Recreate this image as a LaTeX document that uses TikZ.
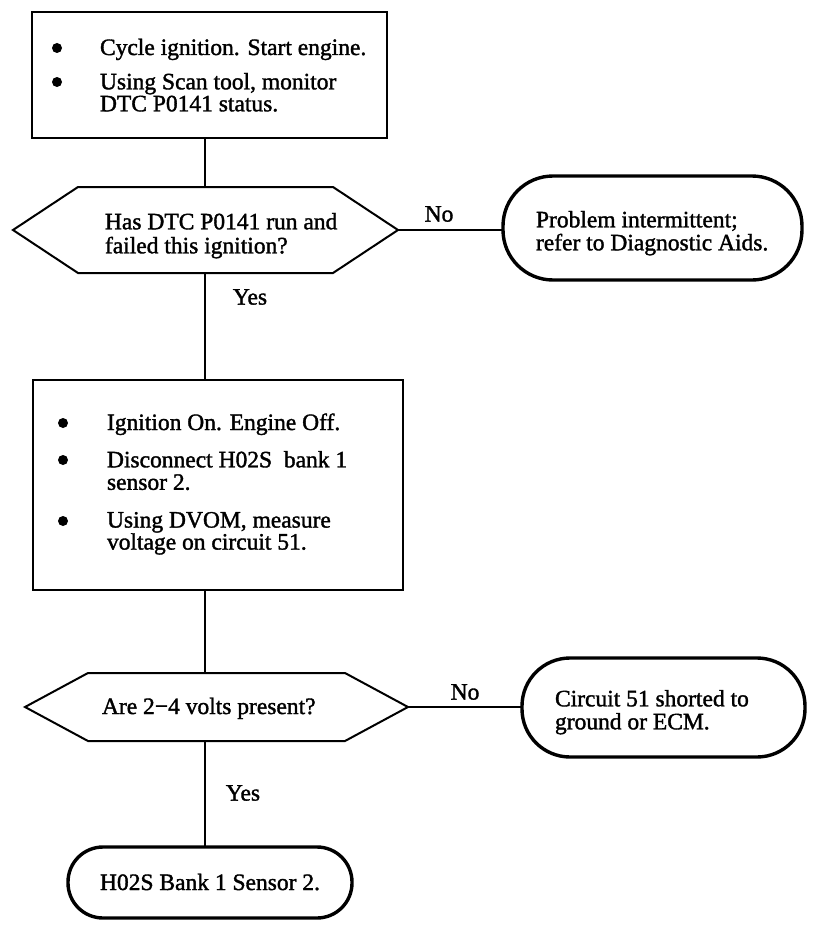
\documentclass[tikz,border=0pt]{standalone}
\usepackage{fontspec}
\setmainfont{Liberation Serif}[FakeBold=1.5]
\begin{document}
\begin{tikzpicture}[x=1pt,y=-1pt,
  txt/.style={anchor=base west,inner sep=0pt,outer sep=0pt,font=\fontsize{23.5}{22}\selectfont},
  mtxt/.style={anchor=north west,align=left,inner sep=0pt,outer sep=0pt,font=\fontsize{23.5}{#1}\selectfont},
  ctxt/.style={anchor=base,inner sep=0pt,outer sep=0pt,font=\fontsize{23.5}{22}\selectfont},
  lbl/.style={inner sep=0pt,outer sep=0pt,font=\fontsize{23.5}{22}\selectfont},
  stepbox/.style={draw,line width=2pt,inner sep=0pt,outer sep=0pt},
  hexnode/.style={inner sep=0pt,outer sep=0pt},
  hexline/.style={line width=2pt,line join=miter},
  term/.style={draw,line width=3.4pt,inner sep=0pt,outer sep=0pt},
  conn/.style={line width=1.6pt},
  dot/.style={circle,fill,inner sep=0pt,minimum size=10pt}]
\useasboundingbox (0,0) rectangle (832,942);
% box 1
\node[stepbox,minimum width=355pt,minimum height=126pt] (b1) at (209.5,75) {};
\node[dot] (b1d1) at (57,48) {};
\node[txt] (b1t1) at (100,55) {Cycle ignition. Start engine.};
\node[dot] (b1d2) at (57,82) {};
\node[mtxt=22] (b1t2) at (100,73) {Using Scan tool, monitor\\DTC P0141 status.};
% hexagon 1
\node[hexnode,minimum width=385pt,minimum height=86pt] (h1) at (205.5,230) {};
\draw[hexline] (h1.west) -- ([xshift=65pt]h1.north west) -- ([xshift=-65pt]h1.north east)
  -- (h1.east) -- ([xshift=-65pt]h1.south east) -- ([xshift=65pt]h1.south west) -- cycle;
\node[mtxt=24] (h1t1) at (105,213) {Has DTC P0141 run and\\failed this ignition?};
% terminal 1
\node[term,rounded corners=50pt,minimum width=299pt,minimum height=104pt] (t1) at (652.5,228) {};
\node[mtxt=23] (t1t1) at (536,211) {Problem intermittent;\\refer to Diagnostic Aids.};
% box 2
\node[stepbox,minimum width=370pt,minimum height=210pt] (b2) at (218,485) {};
\node[dot] (b2d1) at (63,423) {};
\node[txt] (b2t1) at (107,430) {Ignition On. Engine Off.};
\node[dot] (b2d2) at (63,460) {};
\node[mtxt=22.5] (b2t2) at (107,451) {Disconnect H02S\ \ bank 1\\sensor 2.};
\node[dot] (b2d3) at (63,521) {};
\node[mtxt=22] (b2t4) at (107,512) {Using DVOM, measure\\voltage on circuit 51.};
% hexagon 2
\node[hexnode,minimum width=383pt,minimum height=68pt] (h2) at (216.5,707) {};
\draw[hexline] (h2.west) -- ([xshift=63pt]h2.north west) -- ([xshift=-63pt]h2.north east)
  -- (h2.east) -- ([xshift=-63pt]h2.south east) -- ([xshift=63pt]h2.south west) -- cycle;
\node[txt] (h2t1) at (102,714) {Are 2\textminus4 volts present?};
% terminal 2
\node[term,rounded corners=48pt,minimum width=283pt,minimum height=99pt] (t2) at (663.5,707.5) {};
\node[mtxt=23] (t2t1) at (555,690) {Circuit 51 shorted to\\ground or ECM.};
% terminal 3
\node[term,rounded corners=35pt,minimum width=284pt,minimum height=71pt] (t3) at (210,882.5) {};
\node[ctxt] (t3t1) at (210,890) {H02S Bank 1 Sensor 2.};
% connectors
\coordinate (vx) at (205,0);
\draw[conn] (b1.south -| vx) -- (h1.north -| vx);
\draw[conn] (h1.south -| vx) -- (b2.north -| vx);
\draw[conn] (b2.south -| vx) -- (h2.north -| vx);
\draw[conn] (h2.south -| vx) -- (t3.north -| vx);
\draw[conn] (h1.east) -- (t1.west |- h1.east);
\draw[conn] (h2.east) -- (t2.west |- h2.east);
\node[lbl] (yes1) at (250,297) {Yes};
\node[lbl] (yes2) at (243,793) {Yes};
\node[lbl] (no1) at (439,214) {No};
\node[lbl] (no2) at (465,692) {No};
\end{tikzpicture}
\end{document}
